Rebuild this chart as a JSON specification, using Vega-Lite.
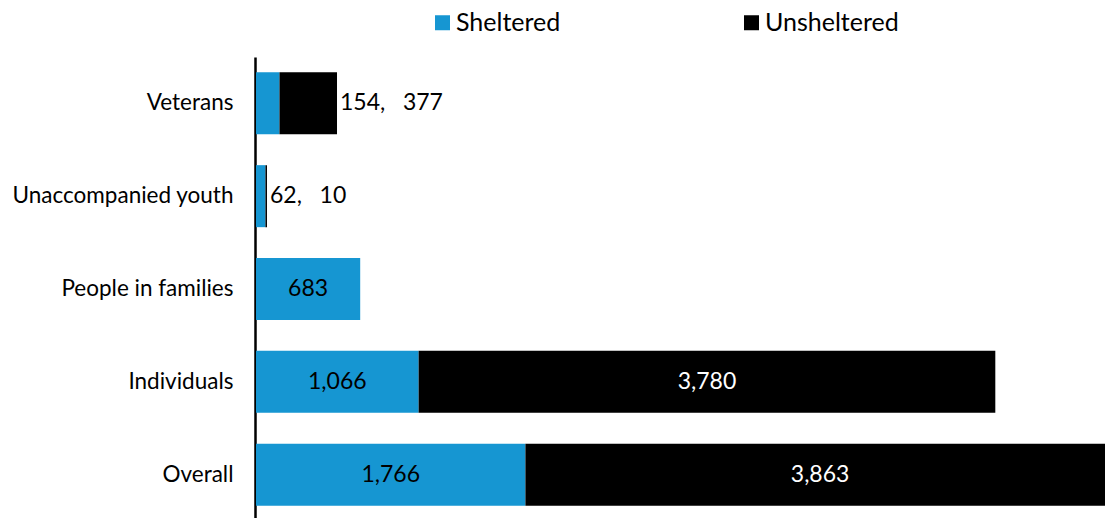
{
  "$schema": "https://vega.github.io/schema/vega-lite/v6.json",
  "autosize": {"type": "none"},
  "width": 849,
  "height": 464,
  "padding": {"left": 256, "top": 57, "right": 0, "bottom": 0},
  "background": "white",
  "config": {"font": "Lato", "view": {"stroke": null}},
  "datasets": {
    "segments": [
      {"category": "Veterans", "type": "Sheltered", "value": 154},
      {"category": "Veterans", "type": "Unsheltered", "value": 377},
      {"category": "Unaccompanied youth", "type": "Sheltered", "value": 62},
      {"category": "Unaccompanied youth", "type": "Unsheltered", "value": 10},
      {"category": "People in families", "type": "Sheltered", "value": 683},
      {"category": "Individuals", "type": "Sheltered", "value": 1066},
      {"category": "Individuals", "type": "Unsheltered", "value": 3780},
      {"category": "Overall", "type": "Sheltered", "value": 1766},
      {"category": "Overall", "type": "Unsheltered", "value": 3863}
    ],
    "outsideLabels": [
      {"category": "Veterans", "label": "154,\u00a0\u00a0 377"},
      {"category": "Unaccompanied youth", "label": "62,\u00a0\u00a0 10"}
    ]
  },
  "layer": [
    {
      "data": {"name": "segments"},
      "transform": [
        {"stack": "value", "groupby": ["category"], "sort": [{"field": "type", "order": "ascending"}], "as": ["x0", "x1"]}
      ],
      "mark": {"type": "bar"},
      "encoding": {
        "y": {
          "field": "category", "type": "nominal",
          "sort": ["Veterans", "Unaccompanied youth", "People in families", "Individuals", "Overall"],
          "scale": {"paddingInner": 0.332, "paddingOuter": 0.165},
          "axis": {"title": null, "ticks": false, "labelFontSize": 22.5, "labelColor": "#000000", "labelPadding": 22, "labelLimit": 400, "domainColor": "#000000", "domainWidth": 2.5, "offset": 1, "labelFont": "Lato", "grid": false}
        },
        "x": {"field": "x0", "type": "quantitative", "scale": {"domain": [0, 5565]}, "axis": null},
        "x2": {"field": "x1"},
        "color": {
          "field": "type", "type": "nominal",
          "scale": {"domain": ["Sheltered", "Unsheltered"], "range": ["#1696d2", "#000000"]},
          "legend": {"title": null, "orient": "none", "legendX": 174, "legendY": -47, "direction": "horizontal", "symbolType": "square", "symbolSize": 225, "symbolStrokeWidth": 0, "labelFontSize": 25, "labelFont": "Lato", "labelColor": "#000000", "columnPadding": 178, "labelOffset": 1}
        }
      }
    },
    {
      "data": {"name": "segments"},
      "transform": [
        {"filter": {"field": "category", "oneOf": ["People in families", "Individuals", "Overall"]}},
        {"stack": "value", "groupby": ["category"], "sort": [{"field": "type", "order": "ascending"}], "as": ["x0", "x1"]},
        {"fold": ["x0", "x1"], "as": ["edge", "pos"]}
      ],
      "mark": {"type": "text", "fontSize": 23, "align": "center", "baseline": "middle", "font": "Lato"},
      "encoding": {
        "y": {"field": "category", "type": "nominal", "sort": ["Veterans", "Unaccompanied youth", "People in families", "Individuals", "Overall"]},
        "x": {"aggregate": "mean", "field": "pos", "type": "quantitative", "scale": {"domain": [0, 5565]}, "axis": null},
        "text": {"field": "value", "type": "quantitative", "format": ","},
        "detail": {"field": "type", "type": "nominal"},
        "color": {"condition": {"test": "datum.type === 'Unsheltered'", "value": "#ffffff"}, "value": "#000000"}
      }
    },
    {
      "data": {"name": "segments"},
      "transform": [
        {"filter": {"field": "category", "oneOf": ["Veterans", "Unaccompanied youth"]}},
        {"aggregate": [{"op": "sum", "field": "value", "as": "total"}], "groupby": ["category"]},
        {"lookup": "category", "from": {"data": {"name": "outsideLabels"}, "key": "category", "fields": ["label"]}}
      ],
      "mark": {"type": "text", "fontSize": 23, "align": "left", "baseline": "middle", "dx": 3, "font": "Lato", "color": "#000000"},
      "encoding": {
        "y": {"field": "category", "type": "nominal", "sort": ["Veterans", "Unaccompanied youth", "People in families", "Individuals", "Overall"]},
        "x": {"field": "total", "type": "quantitative", "scale": {"domain": [0, 5565]}, "axis": null},
        "text": {"field": "label", "type": "nominal"}
      }
    }
  ]
}
